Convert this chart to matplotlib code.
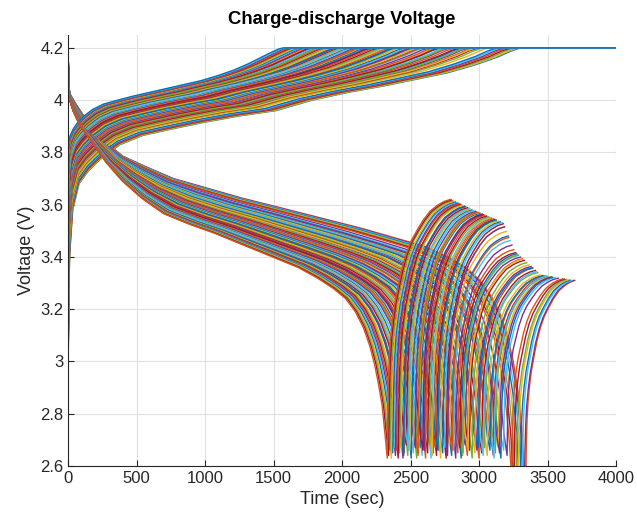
import numpy as np
import matplotlib
matplotlib.use("Agg")
import matplotlib.pyplot as plt
from matplotlib.ticker import FormatStrFormatter

dis_end = [3340, 3330, 3315, 3300, 3285, 3270, 3255, 3240,
           3205, 3180, 3160, 3140, 3120, 3105, 3090, 3150, 3110, 3080, 3060, 3040, 3020, 3000, 2985,
           3030, 2995, 2970, 2950, 2930, 2915, 2900, 2885, 2870,
           2920, 2880, 2860, 2845, 2830, 2815, 2800, 2785, 2770, 2760,
           2805, 2770, 2750, 2735, 2720, 2705, 2690, 2680, 2665, 2650,
           2700, 2660, 2640, 2625, 2610, 2600, 2585, 2570, 2560, 2545,
           2590, 2555, 2535, 2520, 2505, 2495, 2480, 2470, 2455, 2445,
           2485, 2450, 2430, 2420, 2410, 2400, 2390, 2380, 2370, 2360, 2350, 2340, 2330]
dis_cut = [2.45, 2.42, 2.47, 2.44, 2.48, 2.45, 2.50, 2.55,
           2.64, 2.66, 2.63, 2.67, 2.65, 2.64, 2.68, 2.65, 2.63, 2.66, 2.64, 2.67, 2.65, 2.63, 2.66,
           2.64, 2.67, 2.65, 2.63, 2.66, 2.64, 2.68, 2.65, 2.63,
           2.66, 2.64, 2.67, 2.65, 2.63, 2.66, 2.64, 2.68, 2.65, 2.63,
           2.66, 2.64, 2.67, 2.65, 2.63, 2.66, 2.64, 2.67, 2.65, 2.63,
           2.66, 2.64, 2.68, 2.65, 2.63, 2.66, 2.64, 2.67, 2.65, 2.63,
           2.66, 2.64, 2.67, 2.65, 2.63, 2.66, 2.64, 2.68, 2.65, 2.63,
           2.66, 2.64, 2.67, 2.65, 2.63, 2.66, 2.64, 2.67, 2.65, 2.63, 2.66, 2.64, 2.63]

# discharge shape, time as fraction of the cycle's end time
dis_frac = [0, 0.001, 0.005, 0.015, 0.03, 0.05, 0.08, 0.12, 0.17, 0.23, 0.3, 0.38, 0.46,
            0.55, 0.64, 0.72, 0.78, 0.83, 0.87, 0.9, 0.925, 0.945, 0.96, 0.973, 0.984, 0.993, 1.0]
dis_v_first = [4.2, 4.05, 4.02, 3.99, 3.95, 3.90, 3.84, 3.785, 3.745, 3.70, 3.665, 3.625, 3.59,
               3.55, 3.51, 3.47, 3.44, 3.40, 3.36, 3.31, 3.25, 3.18, 3.10, 3.0, 2.88, 2.72, 2.45]
dis_v_last = [4.2, 4.02, 4.0, 3.96, 3.92, 3.88, 3.83, 3.76, 3.69, 3.625, 3.565, 3.525, 3.49,
              3.445, 3.40, 3.36, 3.32, 3.28, 3.24, 3.19, 3.13, 3.06, 2.99, 2.91, 2.83, 2.72, 2.64]

# voltage recovery after the load is removed
rec_frac = [0, 0.005, 0.015, 0.03, 0.05, 0.08, 0.12, 0.17, 0.23, 0.3, 0.38, 0.47, 0.57, 0.68, 0.8, 0.9, 1.0]
rec_shape = [0, 0.12, 0.27, 0.38, 0.46, 0.53, 0.6, 0.66, 0.73, 0.79, 0.84, 0.88, 0.92, 0.955, 0.978, 0.992, 1.0]
rec_dur_first, rec_dur_last = 360, 460
rec_top_t = [2790, 2950, 3175, 3260, 3450, 3680]
rec_top_v = [3.62, 3.58, 3.53, 3.42, 3.33, 3.31]

# charge shape, time as fraction of the time to reach 4.2 V
chg_frac = [0, 0.003, 0.01, 0.024, 0.045, 0.075, 0.115, 0.165, 0.23, 0.3, 0.38,
            0.46, 0.54, 0.62, 0.7, 0.77, 0.84, 0.9, 0.95, 0.98, 1.0]
chg_v_slow = [3.0, 3.4, 3.58, 3.68, 3.73, 3.78, 3.83, 3.865, 3.89, 3.915, 3.94,
              3.96, 4.0, 4.03, 4.055, 4.08, 4.105, 4.135, 4.165, 4.188, 4.2]
chg_v_fast = [3.83, 3.845, 3.865, 3.89, 3.915, 3.94, 3.965, 3.985, 4.0, 4.015, 4.03,
              4.045, 4.06, 4.075, 4.095, 4.115, 4.14, 4.165, 4.185, 4.196, 4.2]
chg_full_slow, chg_full_fast = 3300, 1570

matlab_colors = ['#0072BD', '#D95319', '#EDB120', '#7E2F8E', '#77AC30', '#4DBEEE', '#A2142F']

fig = plt.figure(figsize=(6.37, 5.2), dpi=100)
ax = fig.add_axes([0.107, 0.104, 0.860, 0.829])

t_lo, t_hi = min(dis_end), max(dis_end)
k = 0
for te, vcut in zip(dis_end, dis_cut):
    w = (te - t_lo) / (t_hi - t_lo)      # 1 = first cycle, 0 = last cycle

    # charge
    t_full = w * chg_full_slow + (1 - w) * chg_full_fast
    tc = np.array(chg_frac) * t_full
    vc = w * np.array(chg_v_slow) + (1 - w) * np.array(chg_v_fast)
    tc = np.append(tc, 4000)
    vc = np.append(vc, 4.2)
    ax.plot(tc, vc, color=matlab_colors[k % 7], lw=1.0)
    k += 1

    # discharge + recovery
    td = np.array(dis_frac) * te
    vd = w * np.array(dis_v_first) + (1 - w) * np.array(dis_v_last)
    vd[-1] = vcut
    dur = w * rec_dur_first + (1 - w) * rec_dur_last
    top = np.interp(te + dur, rec_top_t, rec_top_v)
    tr = te + np.array(rec_frac[1:]) * dur
    vr = vcut + np.array(rec_shape[1:]) * (top - vcut)
    ax.plot(np.concatenate([td, tr]), np.concatenate([vd, vr]),
            color=matlab_colors[k % 7], lw=1.0)
    k += 1

ax.set_xlim(0, 4000)
ax.set_ylim(2.6, 4.25)
ax.set_xticks(np.arange(0, 4001, 500))
ax.set_yticks(np.arange(2.6, 4.21, 0.2))
ax.yaxis.set_major_formatter(FormatStrFormatter('%g'))

txt = '#262626'
for s in ['top', 'right']:
    ax.spines[s].set_visible(False)
for s in ['left', 'bottom']:
    ax.spines[s].set_color(txt)
    ax.spines[s].set_linewidth(0.8)
ax.tick_params(direction='in', length=4, colors=txt, labelsize=12)
for lab in ax.get_xticklabels() + ax.get_yticklabels():
    lab.set_family('Liberation Sans')
ax.grid(True, color='#e0e0e0', lw=0.8)
ax.set_axisbelow(True)

ax.set_xlabel('Time (sec)', fontsize=13, color=txt, family='Liberation Sans')
ax.set_ylabel('Voltage (V)', fontsize=13, color=txt, family='Liberation Sans')
ax.set_title('Charge-discharge Voltage', fontsize=13.3, fontweight='bold',
             family='Liberation Sans', pad=8)

fig.savefig('out.png', dpi=100)
